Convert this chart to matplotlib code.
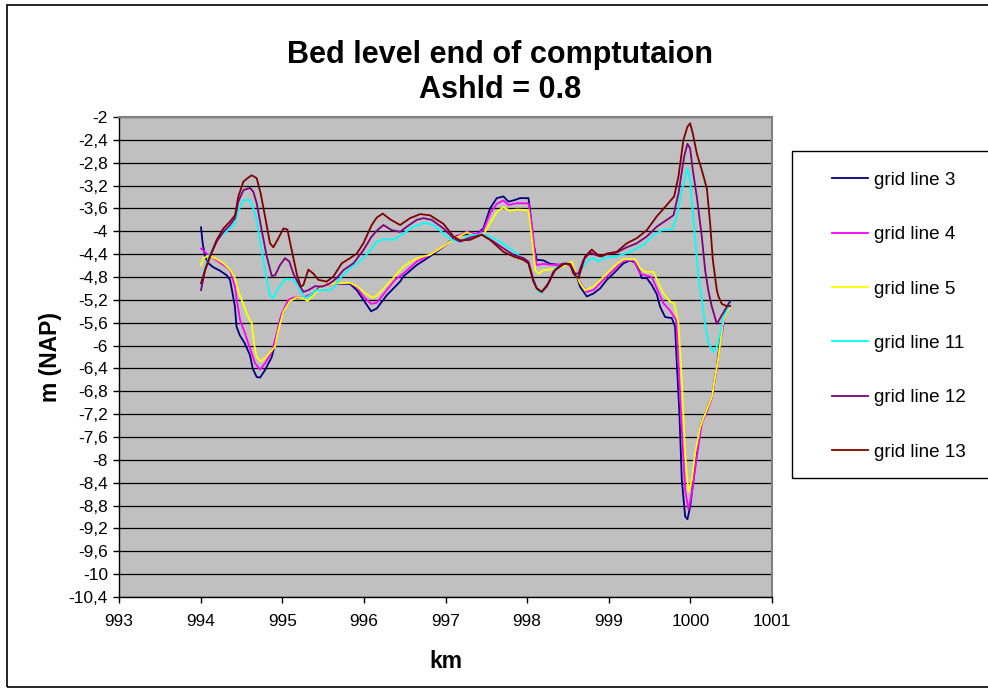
import matplotlib
matplotlib.use("Agg")
import matplotlib.pyplot as plt
from matplotlib.patches import Rectangle

plt.rcParams['font.family'] = ['Liberation Sans', 'DejaVu Sans']

# ---------------- data ----------------
gl3_x = [994.005, 994.025, 994.054, 994.095, 994.156, 994.238, 994.319, 994.360, 994.393, 994.420,
         994.440, 994.480, 994.540, 994.605, 994.638, 994.687, 994.728, 994.789, 994.871, 994.924,
         994.973, 995.034, 995.095, 995.157, 995.259, 995.381, 995.463, 995.586, 995.708, 995.830,
         995.913, 995.994, 996.088, 996.158, 996.280, 996.444, 996.484, 996.648, 996.810, 996.975,
         997.138, 997.300, 997.383, 997.464, 997.546, 997.628, 997.710, 997.770, 997.832, 997.914,
         998.016, 998.036, 998.077, 998.118, 998.200, 998.281, 998.404, 998.486, 998.547, 998.588,
         998.616, 998.649, 998.731, 998.812, 998.894, 998.976, 999.058, 999.180, 999.262, 999.344,
         999.405, 999.466, 999.527, 999.588, 999.629, 999.690, 999.773, 999.813, 999.834, 999.866,
         999.895, 999.936, 999.964, 999.997, 1000.058, 1000.120, 1000.181, 1000.263, 1000.324, 1000.365,
         1000.426, 1000.487]
gl3_y = [-3.93, -4.21, -4.44, -4.56, -4.63, -4.69, -4.77, -4.85, -5.10, -5.32,
         -5.67, -5.82, -5.96, -6.17, -6.40, -6.55, -6.56, -6.43, -6.20, -5.90,
         -5.55, -5.35, -5.21, -5.17, -5.17, -5.09, -4.97, -4.92, -4.92, -4.92,
         -5.03, -5.20, -5.40, -5.35, -5.12, -4.88, -4.79, -4.59, -4.44, -4.27,
         -4.08, -4.04, -4.05, -3.95, -3.60, -3.42, -3.39, -3.48, -3.46, -3.42,
         -3.42, -3.63, -4.21, -4.50, -4.51, -4.57, -4.59, -4.57, -4.62, -4.77,
         -4.82, -4.97, -5.14, -5.09, -5.00, -4.85, -4.74, -4.56, -4.51, -4.56,
         -4.82, -4.82, -4.94, -5.10, -5.32, -5.50, -5.52, -5.67, -6.31, -7.19,
         -8.35, -8.99, -9.04, -8.82, -8.12, -7.42, -7.19, -6.90, -6.37, -5.90,
         -5.44, -5.23]

gl4_x = [994.005, 994.074, 994.156, 994.279, 994.360, 994.421, 994.442, 994.483, 994.544, 994.605,
         994.667, 994.728, 994.789, 994.871, 994.932, 994.993, 995.075, 995.136, 995.259, 995.381,
         995.504, 995.830, 995.913, 995.994, 996.088, 996.158, 996.280, 996.380, 996.484, 996.648,
         996.810, 996.975, 997.138, 997.260, 997.383, 997.464, 997.546, 997.628, 997.710, 997.770,
         997.873, 998.016, 998.057, 998.100, 998.118, 998.200, 998.322, 998.486, 998.547, 998.608,
         998.670, 998.731, 998.812, 998.935, 999.058, 999.180, 999.303, 999.384, 999.446, 999.527,
         999.588, 999.670, 999.752, 999.826, 999.854, 999.895, 999.936, 999.977, 1000.017, 1000.079,
         1000.140, 1000.201, 1000.263, 1000.324, 1000.373, 1000.426, 1000.487]
gl4_y = [-4.30, -4.39, -4.47, -4.59, -4.68, -4.97, -5.20, -5.55, -5.79, -6.05,
         -6.31, -6.42, -6.31, -6.11, -5.79, -5.44, -5.20, -5.16, -5.16, -5.08,
         -4.94, -4.90, -4.98, -5.14, -5.27, -5.25, -5.03, -4.85, -4.74, -4.53,
         -4.41, -4.27, -4.09, -4.01, -4.05, -3.98, -3.69, -3.52, -3.46, -3.54,
         -3.51, -3.51, -3.86, -4.44, -4.59, -4.57, -4.59, -4.57, -4.62, -4.78,
         -4.94, -5.06, -5.03, -4.85, -4.68, -4.51, -4.51, -4.74, -4.77, -4.80,
         -5.00, -5.26, -5.39, -5.55, -6.31, -7.48, -8.53, -8.87, -8.59, -7.95,
         -7.36, -7.16, -6.92, -6.40, -5.90, -5.47, -5.29]

gl5_x = [994.005, 994.033, 994.095, 994.176, 994.279, 994.360, 994.421, 994.462, 994.503, 994.564,
         994.626, 994.654, 994.687, 994.736, 994.789, 994.850, 994.911, 994.953, 995.014, 995.095,
         995.177, 995.259, 995.308, 995.381, 995.504, 995.667, 995.830, 995.913, 995.994, 996.096,
         996.158, 996.280, 996.341, 996.484, 996.648, 996.810, 996.975, 997.138, 997.260, 997.383,
         997.464, 997.546, 997.628, 997.710, 997.791, 997.873, 998.016, 998.057, 998.100, 998.138,
         998.200, 998.281, 998.404, 998.506, 998.547, 998.588, 998.649, 998.710, 998.812, 998.935,
         999.058, 999.180, 999.323, 999.384, 999.446, 999.548, 999.629, 999.670, 999.752, 999.801,
         999.854, 999.895, 999.936, 999.977, 1000.017, 1000.058, 1000.120, 1000.181, 1000.263, 1000.344,
         1000.397, 1000.446, 1000.487]
gl5_y = [-4.59, -4.47, -4.43, -4.47, -4.56, -4.67, -4.82, -5.05, -5.20, -5.44,
         -5.61, -5.96, -6.20, -6.28, -6.22, -6.12, -6.02, -5.73, -5.41, -5.22,
         -5.16, -5.17, -5.22, -5.12, -4.94, -4.91, -4.90, -4.96, -5.06, -5.16,
         -5.13, -4.94, -4.85, -4.62, -4.47, -4.41, -4.26, -4.11, -4.02, -4.09,
         -4.06, -3.86, -3.66, -3.58, -3.64, -3.62, -3.63, -4.09, -4.68, -4.74,
         -4.68, -4.67, -4.63, -4.57, -4.53, -4.71, -4.91, -5.03, -4.97, -4.80,
         -4.62, -4.49, -4.49, -4.65, -4.71, -4.71, -4.97, -5.09, -5.23, -5.26,
         -5.61, -6.60, -7.89, -8.56, -8.35, -7.89, -7.42, -7.19, -6.90, -6.20,
         -5.61, -5.41, -5.32]

gl11_x = [994.005, 994.054, 994.115, 994.217, 994.279, 994.360, 994.421, 994.462, 994.524, 994.585,
          994.626, 994.687, 994.748, 994.810, 994.850, 994.891, 994.952, 995.034, 995.116, 995.177,
          995.238, 995.279, 995.341, 995.422, 995.586, 995.647, 995.708, 995.830, 995.994, 996.096,
          996.158, 996.239, 996.362, 996.484, 996.607, 996.750, 996.852, 996.975, 997.077, 997.179,
          997.301, 997.464, 997.628, 997.791, 997.914, 998.016, 998.077, 998.138, 998.179, 998.261,
          998.342, 998.445, 998.526, 998.575, 998.608, 998.670, 998.751, 998.812, 998.874, 998.955,
          999.098, 999.262, 999.425, 999.548, 999.650, 999.772, 999.834, 999.895, 999.964, 999.997,
          1000.038, 1000.099, 1000.140, 1000.181, 1000.222, 1000.283, 1000.324, 1000.365, 1000.406, 1000.467,
          1000.495]
gl11_y = [-4.95, -4.65, -4.40, -4.12, -4.05, -3.95, -3.86, -3.63, -3.46, -3.45,
          -3.51, -3.80, -4.33, -4.85, -5.12, -5.17, -5.00, -4.84, -4.84, -4.91,
          -5.09, -5.17, -5.12, -5.03, -5.03, -4.96, -4.82, -4.65, -4.47, -4.30,
          -4.18, -4.14, -4.15, -4.04, -3.92, -3.85, -3.89, -4.04, -4.15, -4.18,
          -4.07, -4.05, -4.15, -4.30, -4.44, -4.56, -4.85, -5.06, -5.07, -4.91,
          -4.65, -4.56, -4.58, -4.71, -4.80, -4.65, -4.50, -4.47, -4.53, -4.46,
          -4.44, -4.36, -4.24, -4.07, -3.98, -3.97, -3.74, -3.28, -2.90, -3.10,
          -3.80, -4.79, -5.20, -5.61, -5.96, -6.11, -6.02, -5.79, -5.50, -5.32,
          -5.26]

gl12_x = [994.005, 994.054, 994.115, 994.197, 994.279, 994.360, 994.421, 994.462, 994.524, 994.605,
          994.646, 994.687, 994.748, 994.810, 994.871, 994.912, 994.973, 995.034, 995.087, 995.136,
          995.197, 995.259, 995.320, 995.402, 995.483, 995.586, 995.667, 995.749, 995.872, 995.994,
          996.096, 996.158, 996.239, 996.341, 996.444, 996.525, 996.648, 996.730, 996.832, 996.975,
          997.097, 997.179, 997.301, 997.444, 997.587, 997.710, 997.832, 997.955, 998.016, 998.077,
          998.118, 998.179, 998.240, 998.322, 998.424, 998.526, 998.588, 998.629, 998.690, 998.771,
          998.833, 998.894, 998.976, 999.098, 999.221, 999.344, 999.466, 999.588, 999.711, 999.793,
          999.854, 999.924, 999.964, 999.997, 1000.030, 1000.079, 1000.140, 1000.181, 1000.222, 1000.263,
          1000.324, 1000.385, 1000.446, 1000.487]
gl12_y = [-5.03, -4.68, -4.44, -4.18, -4.01, -3.89, -3.77, -3.48, -3.28, -3.24,
          -3.31, -3.51, -3.98, -4.44, -4.78, -4.77, -4.59, -4.47, -4.53, -4.74,
          -4.91, -5.06, -5.03, -4.96, -4.97, -4.91, -4.82, -4.68, -4.56, -4.33,
          -4.09, -3.99, -3.89, -3.98, -4.01, -3.92, -3.80, -3.77, -3.80, -3.95,
          -4.12, -4.18, -4.11, -4.06, -4.18, -4.30, -4.41, -4.47, -4.53, -4.85,
          -5.00, -5.06, -4.97, -4.71, -4.57, -4.57, -4.74, -4.74, -4.50, -4.37,
          -4.41, -4.44, -4.40, -4.37, -4.28, -4.21, -4.09, -3.92, -3.80, -3.72,
          -3.34, -2.69, -2.47, -2.55, -2.93, -3.40, -4.09, -4.68, -5.05, -5.32,
          -5.62, -5.47, -5.32, -5.22]

gl13_x = [994.005, 994.054, 994.115, 994.197, 994.279, 994.360, 994.421, 994.462, 994.524, 994.585,
          994.626, 994.687, 994.736, 994.789, 994.850, 994.891, 994.953, 995.014, 995.063, 995.116,
          995.177, 995.226, 995.259, 995.320, 995.381, 995.443, 995.545, 995.627, 995.729, 995.830,
          995.913, 995.994, 996.096, 996.158, 996.231, 996.321, 996.444, 996.566, 996.689, 996.810,
          996.975, 997.097, 997.179, 997.301, 997.444, 997.546, 997.710, 997.832, 997.955, 998.016,
          998.077, 998.118, 998.179, 998.261, 998.342, 998.465, 998.526, 998.567, 998.629, 998.710,
          998.792, 998.853, 998.915, 998.976, 999.098, 999.221, 999.344, 999.466, 999.588, 999.711,
          999.801, 999.854, 999.915, 999.964, 999.997, 1000.030, 1000.079, 1000.140, 1000.202, 1000.242,
          1000.275, 1000.324, 1000.344, 1000.385, 1000.446, 1000.487]
gl13_y = [-4.91, -4.68, -4.44, -4.15, -3.95, -3.83, -3.72, -3.39, -3.13, -3.06,
          -3.02, -3.07, -3.34, -3.74, -4.21, -4.28, -4.12, -3.95, -3.97, -4.33,
          -4.74, -4.97, -4.94, -4.67, -4.74, -4.85, -4.88, -4.79, -4.56, -4.47,
          -4.39, -4.21, -3.89, -3.76, -3.69, -3.79, -3.89, -3.77, -3.70, -3.72,
          -3.87, -4.09, -4.16, -4.15, -4.06, -4.15, -4.36, -4.44, -4.50, -4.56,
          -4.88, -5.00, -5.06, -4.91, -4.68, -4.56, -4.58, -4.74, -4.82, -4.44,
          -4.32, -4.40, -4.44, -4.39, -4.36, -4.21, -4.12, -3.98, -3.74, -3.54,
          -3.39, -3.04, -2.40, -2.17, -2.11, -2.29, -2.64, -2.93, -3.25, -3.86,
          -4.50, -5.03, -5.14, -5.27, -5.31, -5.31]

series_labels = ['grid line 3', 'grid line 4', 'grid line 5',
                 'grid line 11', 'grid line 12', 'grid line 13']
series_colors = ['#000080', '#FF00FF', '#FFFF00', '#00FFFF', '#800080', '#800000']

x_ticks = [993, 994, 995, 996, 997, 998, 999, 1000, 1001]
y_ticks = [-10.4, -10.0, -9.6, -9.2, -8.8, -8.4, -8.0, -7.6, -7.2, -6.8, -6.4,
           -6.0, -5.6, -5.2, -4.8, -4.4, -4.0, -3.6, -3.2, -2.8, -2.4, -2.0]
y_tick_labels = ['-10,4', '-10', '-9,6', '-9,2', '-8,8', '-8,4', '-8', '-7,6', '-7,2', '-6,8',
                 '-6,4', '-6', '-5,6', '-5,2', '-4,8', '-4,4', '-4', '-3,6', '-3,2', '-2,8',
                 '-2,4', '-2']

title_line1 = 'Bed level end of comptutaion'
title_line2 = 'Ashld = 0.8'
x_label = 'km'
y_label = 'm (NAP)'

# ---------------- figure ----------------
W, H = 988, 694
fig = plt.figure(figsize=(W / 100, H / 100), dpi=100)
fig.patch.set_facecolor('white')

L, R, T, B = 119, 772, 117, 597
ax = fig.add_axes([L / W, 1 - B / H, (R - L) / W, (B - T) / H])
ax.set_facecolor('#C0C0C0')

for v in y_ticks:
    ax.axhline(v, color='black', lw=0.9, zorder=1)

xs = [gl3_x, gl4_x, gl5_x, gl11_x, gl12_x, gl13_x]
ys = [gl3_y, gl4_y, gl5_y, gl11_y, gl12_y, gl13_y]
handles = []
for x, y, c, lab in zip(xs, ys, series_colors, series_labels):
    ln, = ax.plot(x, y, color=c, lw=1.3, label=lab, zorder=3)
    handles.append(ln)

ax.set_xlim(993, 1001)
ax.set_ylim(-10.4, -2.0)
ax.set_xticks(x_ticks)
ax.set_xticklabels([str(t) for t in x_ticks])
ax.set_yticks(y_ticks)
ax.set_yticklabels(y_tick_labels)
ax.tick_params(axis='both', direction='out', length=4, width=1, color='black',
               labelsize=12.4, pad=4)
ax.tick_params(axis='x', pad=8)

for s in ['left', 'bottom']:
    ax.spines[s].set_color('black')
    ax.spines[s].set_linewidth(1.0)
for s in ['top', 'right']:
    ax.spines[s].set_color('#808080')
    ax.spines[s].set_linewidth(1.5)

# titles and axis labels
tx = 500 / W
fig.text(tx, 1 - 63 / H, title_line1, ha='center', va='baseline',
         fontsize=22, fontweight='bold')
fig.text(tx, 1 - 98 / H, title_line2, ha='center', va='baseline',
         fontsize=22, fontweight='bold')
fig.text(50 / W, 1 - 357 / H, y_label, rotation=90, ha='center', va='center',
         fontsize=16.5, fontweight='bold')
fig.text(446 / W, 1 - 668 / H, x_label, ha='center', va='baseline',
         fontsize=16.5, fontweight='bold')

# outer chart border
fig.patches.append(Rectangle((7 / W, 1 - 687 / H), 1.2, (687 - 5) / H,
                             transform=fig.transFigure, fill=False,
                             edgecolor='black', lw=1.2, clip_on=False))
# legend frame
fig.patches.append(Rectangle((792 / W, 1 - 478 / H), 0.3, (478 - 151) / H,
                             transform=fig.transFigure, fill=False,
                             edgecolor='black', lw=1.0, clip_on=False))
leg = fig.legend(handles, series_labels, loc='upper left',
                 bbox_to_anchor=(832 / W, 1 - 171.5 / H), bbox_transform=fig.transFigure,
                 frameon=False, fontsize=13.6, handlelength=1.9, handletextpad=0.3,
                 labelspacing=1.97, borderpad=0, borderaxespad=0)

fig.savefig('out.png', dpi=100, facecolor='white')
